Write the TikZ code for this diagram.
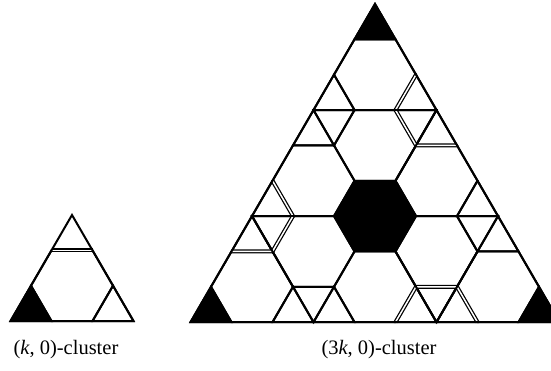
\documentclass[tikz,border=0pt]{standalone}
\usepackage{fontspec}
\setmainfont{Liberation Serif}
% lattice helpers, arguments (row r, index j); coordinates are (j,r)
\newcommand\hexpath[2]{({#2-1},{#1-1}) -- (#2,{#1-1}) -- ({#2+1},#1) -- ({#2+1},{#1+1}) -- (#2,{#1+1}) -- ({#2-1},#1) -- cycle}
\newcommand\uptri[2]{(#2,#1) -- (#2,{#1+1}) -- ({#2+1},{#1+1}) -- cycle}
\newcommand\dntri[2]{(#2,#1) -- ({#2+1},#1) -- ({#2+1},{#1+1}) -- cycle}
\tikzset{
  edge/.style={draw=black, line width=2pt, line join=miter},
  dbl/.style={draw=black, double=white, double distance=1.5pt, line width=1.25pt, line join=miter},
  blk/.style={fill=black, draw=black, line width=2pt, line join=miter},
  lbl/.style={font=\fontsize{20.5}{23}\selectfont, inner sep=0pt},
  lattice/.style={x={(41pt,0pt)}, y={(-20.5pt,-35.35pt)}}
}
\begin{document}
\begin{tikzpicture}
\useasboundingbox (0,0) rectangle (551pt,370pt);
\clip (0,0) rectangle (551pt,370pt);

% ---------- (k,0)-cluster ----------
\begin{scope}[shift={(72pt,155pt)}, lattice]
  \path[edge] \hexpath{2}{1};
  \path[blk] \uptri{2}{0};
  \path[edge] \uptri{2}{2};
  \path[dbl] (0,1) -- (1,1);
  \path[edge] (0,0) -- (0,3) -- (3,3) -- cycle;
\end{scope}

% ---------- (3k,0)-cluster ----------
\begin{scope}[shift={(375pt,366pt)}, lattice]
  % hexagons
  \foreach \r/\j in {2/1,4/2,5/1,5/4,7/2,7/5,8/1,8/4,8/7}
    \path[edge] \hexpath{\r}{\j};
  \path[blk] \hexpath{6}{3};
  % free triangles
  \foreach \r/\j in {2/0,2/2,3/0,3/3,5/0,5/5,6/0,6/6,8/2,8/3,8/5,8/6}
    \path[edge] \uptri{\r}{\j};
  \foreach \r/\j in {3/0,3/2,6/0,6/5,8/2,8/5}
    \path[edge] \dntri{\r}{\j};
  % black corners
  \path[blk] \uptri{0}{0};
  \path[blk] \uptri{8}{0};
  \path[blk] \uptri{8}{8};
  % double edges
  \path[dbl] (2,2) -- (2,3) -- (3,4) -- (4,4);
  \path[dbl] (0,5) -- (1,6) -- (1,7) -- (0,7);
  \path[dbl] (5,9) -- (5,8) -- (6,8) -- (7,9);
  % single edges meeting the double joints
  \path[edge] (1,3) -- (3,3);
  \path[edge] (3,3) -- (3,5);
  \path[edge] (0,6) -- (2,6);
  \path[edge] (0,6) -- (2,8);
  \path[edge] (4,7) -- (6,9);
  \path[edge] (6,7) -- (6,9);
  % outline
  \path[edge] (0,0) -- (0,9) -- (9,9) -- cycle;
\end{scope}

\node[lbl] (lk) at (66pt,20pt) {(\textit{k}, 0)-cluster};
\node[lbl] (l3k) at (379pt,20pt) {(3\textit{k}, 0)-cluster};
\end{tikzpicture}
\end{document}
